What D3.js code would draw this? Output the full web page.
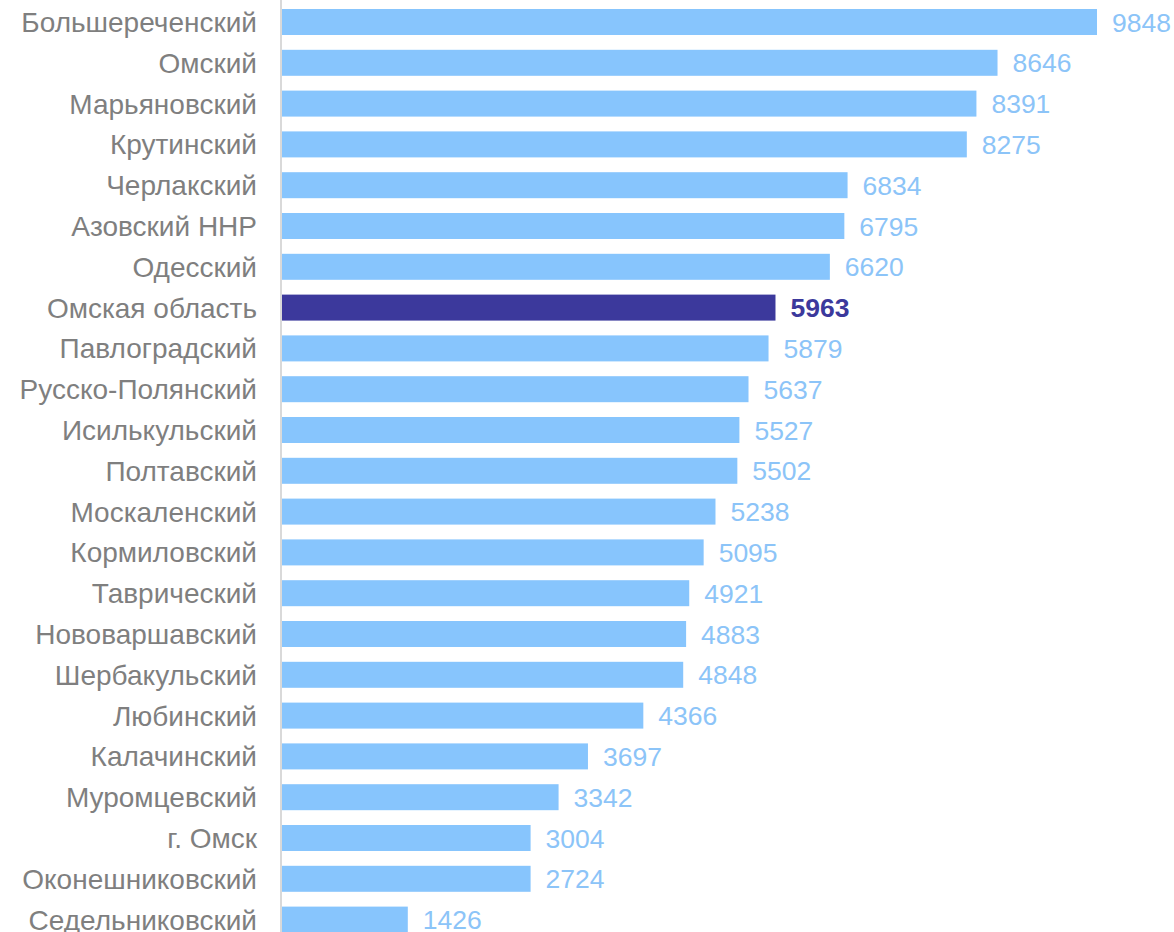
<!DOCTYPE html>
<html><head><meta charset="utf-8">
<script src="https://cdn.jsdelivr.net/npm/d3@7"></script>
<style>body{margin:0;background:#fff;}svg{display:block;}</style>
</head><body>
<svg id="c" width="1174" height="932"></svg>
<script>
const categories = ["Большереченский","Омский","Марьяновский","Крутинский","Черлакский","Азовский ННР","Одесский","Омская область","Павлоградский","Русско-Полянский","Исилькульский","Полтавский","Москаленский","Кормиловский","Таврический","Нововаршавский","Шербакульский","Любинский","Калачинский","Муромцевский","г. Омск","Оконешниковский","Седельниковский"];
const values = [9848,8646,8391,8275,6834,6795,6620,5963,5879,5637,5527,5502,5238,5095,4921,4883,4848,4366,3697,3342,3004,2724,1426];
// bar lengths as drawn in the source picture (two bars do not match their labels)
const barValues = [9848,8646,8391,8275,6834,6795,6620,5963,5879,5637,5527,5502,5238,5095,4921,4883,4848,4366,3697,3342,3004,3004,1520];
const highlight = "Омская область";

const svg = d3.select("#c");
const x = d3.scaleLinear().domain([0, 9848]).range([282, 1097]);
const y = d3.scaleBand().domain(categories).range([1.6, 1.6 + 23*40.8]).paddingInner(0.363).paddingOuter(0.1815);

const rows = categories.map((c,i)=>({c, v: values[i], b: barValues[i]}));

svg.selectAll("rect.bar").data(rows).join("rect")
  .attr("class","bar")
  .attr("x", x(0))
  .attr("y", d=>y(d.c))
  .attr("width", d=>x(d.b)-x(0))
  .attr("height", y.bandwidth())
  .attr("fill", d=>d.c===highlight?"#3c399c":"#87c5fd");

svg.append("line").attr("x1",281).attr("x2",281).attr("y1",0).attr("y2",932)
  .attr("stroke","#d9d9d9").attr("stroke-width",2);

svg.selectAll("text.cat").data(rows).join("text")
  .attr("class","cat")
  .attr("x", 257)
  .attr("y", d=>y(d.c)+y.bandwidth()/2)
  .attr("dy","0.36em")
  .attr("text-anchor","end")
  .attr("font-family","Liberation Sans, Arial, sans-serif")
  .attr("font-size",28)
  .attr("fill","#7f7f7f")
  .text(d=>d.c);

svg.selectAll("text.val").data(rows).join("text")
  .attr("class","val")
  .attr("x", d=>x(d.b)+15)
  .attr("y", d=>y(d.c)+y.bandwidth()/2)
  .attr("dy","0.36em")
  .attr("font-family","Liberation Sans, Arial, sans-serif")
  .attr("font-size",26.5)
  .attr("font-weight", d=>d.c===highlight?"bold":"normal")
  .attr("fill", d=>d.c===highlight?"#3c399c":"#8cc4f8")
  .text(d=>d.v);
</script>
</body></html>
